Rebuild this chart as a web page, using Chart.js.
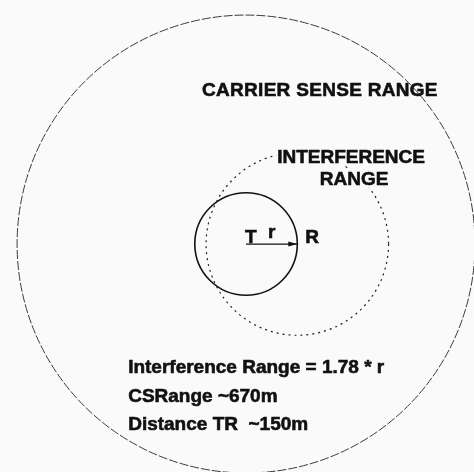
<!DOCTYPE html>
<html>
<head>
<meta charset="utf-8">
<script src="https://cdn.jsdelivr.net/npm/chart.js@4"></script>
<style>
  html, body { margin: 0; padding: 0; background: #fafafa; }
  #wrap { width: 474px; height: 472px; }
</style>
</head>
<body>
<div id="wrap"><canvas id="ranges" width="474" height="472"></canvas></div>
<script>
// ── data (metres) ─────────────────────────
const nodeNames   = ["T", "R"];
const nodeX       = [0, 150];
const nodeY       = [0, 0];

const circleNames   = ["CARRIER SENSE RANGE", "TRANSMISSION RANGE", "INTERFERENCE RANGE"];
const circleCentres = ["T", "T", "R"];
const circleRadii   = [670, 150, 267];       // CS ~670m, r = TR ~150m, 1.78 * r

const noteLines = ["Interference Range = 1.78 * r", "CSRange ~670m", "Distance TR  ~150m"];

// ── look ─────────────────────────────────
const BG = "#fafafa";
const circleStyles = [
  { color: "#3a3a3a", width: 1,   dash: [9, 2] },
  { color: "#111",    width: 1.6, dash: [] },
  { color: "#222",    width: 1.2, dash: [2, 4] }
];
const FONT = "bold 19px 'Liberation Sans', Arial, sans-serif";

// text anchors in metres (left, baseline); knock = clear the lines behind it
const textMarks = [
  { text: "CARRIER SENSE RANGE", x: -129, y: 433, spacing: "0.3px" },
  { text: "INTERFERENCE", x: 91, y: 237, knock: true },
  { text: "RANGE", x: 216, y: 173, knock: true },
  { text: "T", x: -3, y: 3 },
  { text: "r", x: 64, y: 18 },
  { text: "R", x: 173, y: 3 },
  { text: noteLines[0], x: -345, y: -378 },
  { text: noteLines[1], x: -345, y: -462 },
  { text: noteLines[2], x: -345, y: -544 }
];

function nodePos(name) {
  const i = nodeNames.indexOf(name);
  return { x: nodeX[i], y: nodeY[i] };
}

const circlesPlugin = {
  id: "circles",
  beforeDatasetsDraw(chart) {
    const { ctx, scales: { x, y } } = chart;
    circleRadii.forEach((r, i) => {
      const c  = nodePos(circleCentres[i]);
      const px = x.getPixelForValue(c.x);
      const py = y.getPixelForValue(c.y);
      const rp = x.getPixelForValue(c.x + r) - px;
      const s  = circleStyles[i];
      ctx.save();
      ctx.strokeStyle = s.color;
      ctx.lineWidth = s.width;
      ctx.setLineDash(s.dash);
      ctx.beginPath();
      ctx.arc(px, py, rp, 0, Math.PI * 2);
      ctx.stroke();
      ctx.restore();
    });
  },
  afterDatasetsDraw(chart) {
    const { ctx, scales: { x, y } } = chart;
    // arrow head at R
    const b = nodePos(nodeNames[1]);
    const bx = x.getPixelForValue(b.x), by = y.getPixelForValue(b.y);
    ctx.save();
    ctx.fillStyle = "#111";
    ctx.beginPath();
    ctx.moveTo(bx, by);
    ctx.lineTo(bx - 9, by - 2.5);
    ctx.lineTo(bx - 9, by + 2.5);
    ctx.closePath();
    ctx.fill();

    ctx.font = FONT;
    ctx.textBaseline = "alphabetic";
    ctx.lineWidth = 0.6;
    ctx.strokeStyle = "#111";
    textMarks.forEach(t => {
      ctx.letterSpacing = t.spacing || "0px";
      const tx = x.getPixelForValue(t.x), ty = y.getPixelForValue(t.y);
      if (t.knock) {
        const w = ctx.measureText(t.text).width;
        ctx.fillStyle = BG;
        ctx.fillRect(tx - 1, ty - 16, w + 2, 19);
      }
      ctx.fillStyle = "#111";
      ctx.fillText(t.text, tx, ty);
      ctx.strokeText(t.text, tx, ty);
    });
    ctx.restore();
  }
};

new Chart(document.getElementById("ranges"), {
  type: "scatter",
  data: {
    datasets: [{
      label: "TR",
      data: nodeNames.map((n, i) => ({ x: nodeX[i], y: nodeY[i] })),
      showLine: true,
      borderColor: "#111",
      borderWidth: 1.3,
      pointRadius: 0
    }]
  },
  options: {
    responsive: false,
    animation: false,
    layout: { padding: 0 },
    plugins: { legend: { display: false }, tooltip: { enabled: false } },
    scales: {
      x: { type: "linear", min: -720, max: 667, display: false },
      y: { type: "linear", min: -667, max: 714, display: false }
    }
  },
  plugins: [circlesPlugin]
});
</script>
</body>
</html>
